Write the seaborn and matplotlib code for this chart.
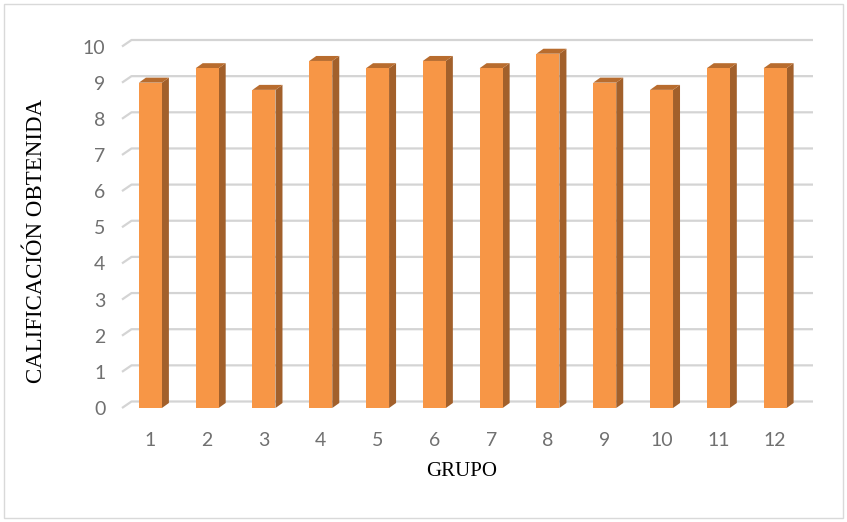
import matplotlib
matplotlib.use("Agg")
import matplotlib.pyplot as plt
from matplotlib.patches import Polygon, Rectangle
import pandas as pd
import seaborn as sns

# Data
grupos = ["1", "2", "3", "4", "5", "6", "7", "8", "9", "10", "11", "12"]
calificacion = [9.0, 9.4, 8.8, 9.6, 9.4, 9.6, 9.4, 9.8, 9.0, 8.8, 9.4, 9.4]
y_ticks = [0, 1, 2, 3, 4, 5, 6, 7, 8, 9, 10]

FRONT = "#F79646"
SIDE = "#A2602B"
TOP = "#B86C2E"
GRID = "#D4D4D4"
TICK_COLOR = "#707070"

W, H, DPI = 847, 522, 100

sns.set_style("white")
plt.rcParams["font.family"] = ["Lato", "DejaVu Sans"]

fig = plt.figure(figsize=(W / DPI, H / DPI), dpi=DPI)

# axes box in pixels (front plane of the 3-D floor)
ax_left, ax_bottom, ax_w, ax_h = 122, 114, 681.5, 361.5
ax = fig.add_axes([ax_left / W, ax_bottom / H, ax_w / W, ax_h / H])

df = pd.DataFrame({"grupo": grupos, "calificacion": calificacion})
sns.barplot(data=df, x="grupo", y="calificacion", color=FRONT, saturation=1,
            width=0.405, ax=ax, zorder=3, edgecolor="none")

ax.set_xlim(-0.5, len(grupos) - 0.5)
ax.set_ylim(0, 10)

# pixel -> data conversion for depth offsets
px_x = (len(grupos)) / ax_w
px_y = 10 / ax_h

# depth of the floor / walls and of each column
floor_dx, floor_dy = 9.5 * px_x, 6.5 * px_y
bar_dx, bar_dy = 7.0 * px_x, 5.0 * px_y

# gridlines on back wall with a short diagonal on the side wall
x0, x1 = -0.5, len(grupos) - 0.5
for v in y_ticks:
    ax.plot([x0, x0 + floor_dx, x1 + floor_dx], [v, v + floor_dy, v + floor_dy],
            color=GRID, lw=1.6, zorder=1, clip_on=False, solid_capstyle="butt")

# side and top faces of every column
for p in ax.patches[:len(grupos)]:
    bx, bw, bh = p.get_x(), p.get_width(), p.get_height()
    side = [(bx + bw, 0), (bx + bw + bar_dx, bar_dy),
            (bx + bw + bar_dx, bh + bar_dy), (bx + bw, bh)]
    top = [(bx, bh), (bx + bw, bh), (bx + bw + bar_dx, bh + bar_dy),
           (bx + bar_dx, bh + bar_dy)]
    ax.add_patch(Polygon(side, closed=True, facecolor=SIDE, edgecolor="none",
                         zorder=2.5, clip_on=False))
    ax.add_patch(Polygon(top, closed=True, facecolor=TOP, edgecolor="none",
                         zorder=2.5, clip_on=False))

for s in ax.spines.values():
    s.set_visible(False)
ax.set_yticks(y_ticks)
ax.tick_params(axis="y", length=0, pad=12, labelsize=14, labelcolor=TICK_COLOR)
ax.tick_params(axis="x", length=0, pad=17, labelsize=14, labelcolor=TICK_COLOR)
ax.grid(False)

ax.set_xlabel("GRUPO", family=["Liberation Serif"], fontsize=15, color="black")
ax.xaxis.set_label_coords((462 - ax_left) / ax_w, (H - ax_bottom - 472) / ax_h)
ax.xaxis.label.set_va("center")
ax.set_ylabel("CALIFICACIÓN OBTENIDA", family=["Liberation Serif"], fontsize=16.5,
              color="black", va="center")
ax.yaxis.set_label_coords((36 - ax_left) / ax_w, (H - ax_bottom - 241) / ax_h)

# chart area frame
fig.patches.append(Rectangle((4 / W, 4 / H), (W - 8) / W, (H - 8) / H,
                             transform=fig.transFigure, fill=False,
                             edgecolor="#D9D9D9", lw=1.0))

fig.savefig("out.png", dpi=DPI, facecolor="white")
